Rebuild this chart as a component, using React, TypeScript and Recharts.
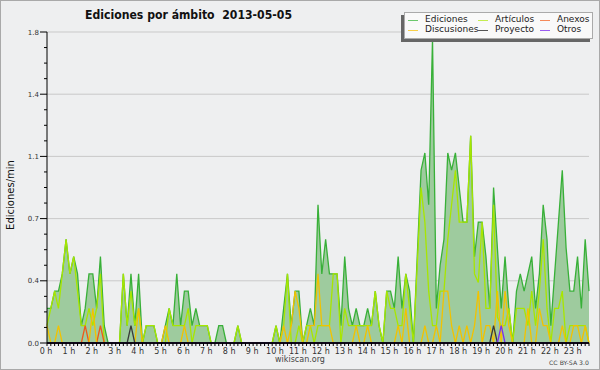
import React from 'react';
import { ComposedChart, Area, Line, XAxis, YAxis, CartesianGrid, ReferenceLine } from 'recharts';

// 10-minute steps from 00:00 to 23:40 (edits per minute)
const ediciones = [
  0.2, 0.2, 0.3, 0.3, 0.4, 0.6, 0.4, 0.5, 0.4, 0.1, 0.2, 0.4,
  0.4, 0.2, 0.5, 0.1, 0, 0, 0, 0, 0.4, 0.1, 0.4, 0.1,
  0.4, 0, 0.1, 0.1, 0.1, 0, 0, 0.1, 0.2, 0.1, 0.4, 0.1,
  0.3, 0.3, 0.1, 0.2, 0.1, 0.1, 0.1, 0, 0, 0.1, 0.1, 0,
  0, 0, 0.1, 0, 0, 0, 0, 0, 0, 0, 0, 0,
  0.1, 0, 0.2, 0.4, 0.1, 0.3, 0.3, 0, 0.1, 0.2, 0.1, 0.8,
  0.4, 0.6, 0.4, 0.4, 0.4, 0.1, 0.5, 0.2, 0.1, 0.2, 0.1, 0.1,
  0.2, 0.1, 0.3, 0.1, 0, 0.3, 0.3, 0.2, 0.5, 0.2, 0.4, 0.3,
  0, 0.5, 1.0, 1.1, 0.8, 1.76, 0.2, 0.45, 0.6, 1.1, 1.0, 1.1,
  0.9, 0.7, 0.7, 1.2, 0.5, 0.7, 0.7, 0.5, 0.2, 0.9, 0.55, 0.2,
  0.5, 0.2, 0, 0.3, 0.4, 0.3, 0.4, 0.5, 0.2, 0.4, 0.8, 0.6,
  0.1, 0.4, 0.7, 1.0, 0.55, 0.3, 0.3, 0.5, 0.2, 0.6, 0.3,
];

const articulos = [
  0.1, 0.2, 0.3, 0.2, 0.4, 0.6, 0.4, 0.5, 0.3, 0.1, 0.1, 0.2,
  0.1, 0.2, 0.4, 0, 0, 0, 0, 0, 0.4, 0.1, 0.3, 0.1,
  0.2, 0, 0.1, 0.1, 0.1, 0, 0, 0, 0.2, 0.1, 0.1, 0.1,
  0.1, 0.2, 0, 0.1, 0.1, 0.1, 0.1, 0, 0, 0, 0, 0,
  0, 0, 0.1, 0, 0, 0, 0, 0, 0, 0, 0, 0,
  0.1, 0, 0.1, 0.4, 0, 0, 0.1, 0, 0.1, 0.1, 0, 0.1,
  0.1, 0.1, 0.1, 0.4, 0.4, 0, 0.2, 0.1, 0.1, 0.1, 0.1, 0.1,
  0.1, 0.1, 0.3, 0.1, 0, 0.3, 0.2, 0.2, 0.1, 0.1, 0.4, 0.2,
  0, 0.45, 0.9, 0.7, 0.3, 0.1, 0.1, 0.3, 0.3, 0.6, 0.8, 1.0,
  0.7, 0.7, 0.7, 1.2, 0.4, 0.35, 0.7, 0.2, 0.2, 0.8, 0.15, 0.1,
  0.1, 0.2, 0, 0.2, 0.2, 0.2, 0.1, 0.3, 0.1, 0.3, 0.6, 0.2,
  0, 0.2, 0.2, 0.3, 0, 0.1, 0.1, 0.1, 0.1, 0.1, 0,
];

const discusiones = [
  0.1, 0, 0, 0.1, 0, 0, 0, 0, 0, 0, 0, 0,
  0.2, 0, 0, 0, 0, 0, 0, 0, 0, 0, 0, 0,
  0.2, 0, 0, 0, 0, 0, 0, 0.1, 0, 0, 0, 0,
  0.1, 0, 0, 0, 0, 0, 0, 0, 0, 0, 0, 0,
  0, 0, 0, 0, 0, 0, 0, 0, 0, 0, 0, 0,
  0, 0, 0.1, 0, 0.1, 0.3, 0.2, 0, 0, 0.1, 0.1, 0.4,
  0.1, 0.1, 0.1, 0, 0, 0, 0, 0, 0, 0.1, 0, 0,
  0.1, 0, 0, 0, 0, 0, 0, 0, 0.1, 0, 0.2, 0,
  0, 0, 0, 0.1, 0, 0, 0.1, 0, 0.3, 0.3, 0.1, 0,
  0.1, 0, 0.1, 0, 0.1, 0.3, 0, 0.1, 0.1, 0, 0.3, 0,
  0.3, 0.1, 0, 0, 0, 0, 0.2, 0, 0, 0.2, 0.1, 0.1,
  0, 0, 0, 0.1, 0, 0, 0.1, 0.1, 0, 0.1, 0,
];

const anexos = [
  0, 0, 0, 0, 0, 0, 0, 0, 0, 0, 0.1, 0,
  0, 0, 0.1, 0, 0, 0, 0, 0, 0, 0, 0, 0,
  0, 0, 0, 0, 0, 0, 0, 0, 0, 0, 0, 0,
  0, 0, 0, 0, 0, 0, 0, 0, 0, 0, 0, 0,
  0, 0, 0, 0, 0, 0, 0, 0, 0, 0, 0, 0,
  0, 0, 0, 0, 0, 0, 0, 0, 0, 0, 0, 0,
  0, 0, 0, 0, 0, 0, 0, 0, 0, 0, 0, 0,
  0, 0, 0, 0, 0, 0, 0, 0, 0, 0, 0, 0,
  0, 0, 0, 0, 0, 0, 0, 0, 0, 0, 0, 0,
  0, 0, 0, 0, 0, 0, 0, 0, 0, 0, 0, 0,
  0, 0, 0, 0, 0, 0, 0, 0, 0, 0, 0, 0,
  0, 0, 0, 0, 0, 0, 0, 0, 0, 0, 0,
];

const proyecto = [
  0, 0, 0, 0, 0, 0, 0, 0, 0, 0, 0, 0,
  0, 0, 0, 0, 0, 0, 0, 0, 0, 0, 0.1, 0,
  0, 0, 0, 0, 0, 0, 0, 0, 0, 0, 0, 0,
  0, 0, 0, 0, 0, 0, 0, 0, 0, 0, 0, 0,
  0, 0, 0, 0, 0, 0, 0, 0, 0, 0, 0, 0,
  0, 0, 0, 0, 0, 0, 0, 0, 0, 0, 0, 0,
  0, 0, 0, 0, 0, 0, 0, 0, 0, 0, 0, 0,
  0, 0, 0, 0, 0, 0, 0, 0, 0, 0, 0, 0,
  0, 0, 0, 0, 0, 0, 0, 0, 0, 0, 0, 0,
  0, 0, 0, 0, 0, 0, 0, 0, 0, 0.1, 0, 0,
  0, 0, 0, 0, 0, 0, 0, 0, 0, 0, 0, 0,
  0, 0, 0, 0, 0, 0, 0, 0, 0, 0, 0,
];

const otros = [
  0, 0, 0, 0, 0, 0, 0, 0, 0, 0, 0, 0,
  0, 0, 0, 0, 0, 0, 0, 0, 0, 0, 0, 0,
  0, 0, 0, 0, 0, 0, 0, 0, 0, 0, 0, 0,
  0, 0, 0, 0, 0, 0, 0, 0, 0, 0, 0, 0,
  0, 0, 0, 0, 0, 0, 0, 0, 0, 0, 0, 0,
  0, 0, 0, 0, 0, 0, 0, 0, 0, 0, 0, 0,
  0, 0, 0, 0, 0, 0, 0, 0, 0, 0, 0, 0,
  0, 0, 0, 0, 0, 0, 0, 0, 0, 0, 0, 0,
  0, 0, 0, 0, 0, 0, 0, 0, 0, 0, 0, 0,
  0, 0, 0, 0, 0, 0, 0, 0, 0, 0, 0, 0.1,
  0, 0, 0, 0, 0, 0, 0, 0, 0, 0, 0, 0,
  0, 0, 0, 0, 0, 0, 0, 0, 0, 0, 0,
];

const hourLabels = [
  '0 h', '1 h', '2 h', '3 h', '4 h', '5 h', '6 h', '7 h', '8 h', '9 h', '10 h', '11 h',
  '12 h', '13 h', '14 h', '15 h', '16 h', '17 h', '18 h', '19 h', '20 h', '21 h', '22 h', '23 h',
];

const yTicks = [
  0, 0.09, 0.18, 0.27, 0.36, 0.45, 0.54, 0.63, 0.72, 0.81, 0.9,
  0.99, 1.08, 1.17, 1.26, 1.35, 1.44, 1.53, 1.62, 1.71, 1.8,
];
const yGrid = [0.36, 0.72, 1.08, 1.44, 1.8];

const TITLE = 'Ediciones por ámbito  2013-05-05';
const Y_LABEL = 'Ediciones/min';

const COLORS = {
  ediciones: '#38b038',
  edicionesFill: '#9ecb9e',
  articulos: '#a8e600',
  anexos: '#ee5a1a',
  discusiones: '#f2c200',
  proyecto: '#3a3a3a',
  otros: '#7a30ee',
};

const legendRows = [
  [
    { name: 'Ediciones', color: '#6cc86c' },
    { name: 'Artículos', color: '#c4ec50' },
    { name: 'Anexos', color: '#f58a5a' },
  ],
  [
    { name: 'Discusiones', color: '#f8cf48' },
    { name: 'Proyecto', color: '#555555' },
    { name: 'Otros', color: '#9a5cf0' },
  ],
];

const data = ediciones.map((v, i) => ({
  i,
  ediciones: v,
  articulos: articulos[i],
  discusiones: discusiones[i],
  anexos: anexos[i],
  proyecto: proyecto[i],
  otros: otros[i],
}));
const xTicks = data.map((d) => d.i);

const FONT = '"DejaVu Sans", sans-serif';

const XTick = (props: any) => {
  const { x, y, payload } = props;
  const v = payload.value as number;
  const major = v % 6 === 0;
  return (
    <g>
      <line x1={x} x2={x} y1={y} y2={y + 3} stroke="#000" strokeWidth={1} />
      {major && (
        <text x={x - 1} y={y + 11} textAnchor="middle" fontSize={8} fill="#333" fontFamily={FONT}>
          {hourLabels[v / 6]}
        </text>
      )}
    </g>
  );
};

const YTick = (props: any) => {
  const { x, y, payload, index } = props;
  const major = index % 4 === 0;
  return (
    <g>
      <line x1={major ? x - 7 : x - 3} x2={x} y1={y} y2={y} stroke="#000" strokeWidth={1} />
      {major && (
        <text x={x - 8} y={y + 2.5} textAnchor="end" fontSize={7} fill="#333" fontFamily={FONT}>
          {(payload.value as number).toFixed(1)}
        </text>
      )}
    </g>
  );
};

export default function App() {
  return (
    <div
      style={{
        position: 'absolute',
        left: 0,
        top: 0,
        width: 600,
        height: 370,
        boxSizing: 'border-box',
        border: '1px solid #a9a9a9',
        background: '#eeeff0',
        overflow: 'hidden',
      }}
    >
      <div style={{ position: 'absolute', left: -1, top: -1 }}>
        <ComposedChart
          width={600}
          height={370}
          data={data}
          margin={{ top: 32, right: 11, bottom: 7, left: 7 }}
        >
          <CartesianGrid vertical={false} horizontalValues={yGrid} stroke="#c9c9c9" strokeWidth={1} />
          <XAxis
            dataKey="i"
            type="number"
            domain={[0, 142]}
            ticks={xTicks}
            interval={0}
            tickLine={false}
            tickSize={0}
            tickMargin={0}
            height={20}
            axisLine={{ stroke: '#000', strokeWidth: 1 }}
            tick={<XTick />}
          />
          <YAxis
            type="number"
            domain={[0, 1.8]}
            ticks={yTicks}
            interval={0}
            tickLine={false}
            tickSize={0}
            tickMargin={0}
            width={40}
            axisLine={{ stroke: '#000', strokeWidth: 1 }}
            tick={<YTick />}
          />
          <Area
            type="linear"
            dataKey="ediciones"
            stroke={COLORS.ediciones}
            strokeWidth={1.3}
            fill={COLORS.edicionesFill}
            fillOpacity={1}
            isAnimationActive={false}
            dot={false}
            activeDot={false}
          />
          <Line type="linear" dataKey="articulos" stroke={COLORS.articulos} strokeWidth={1.3} dot={false} activeDot={false} isAnimationActive={false} />
          <Line type="linear" dataKey="anexos" stroke={COLORS.anexos} strokeWidth={1.3} dot={false} activeDot={false} isAnimationActive={false} />
          <Line type="linear" dataKey="discusiones" stroke={COLORS.discusiones} strokeWidth={1.3} dot={false} activeDot={false} isAnimationActive={false} />
          <Line type="linear" dataKey="proyecto" stroke={COLORS.proyecto} strokeWidth={1.3} dot={false} activeDot={false} isAnimationActive={false} />
          <Line type="linear" dataKey="otros" stroke={COLORS.otros} strokeWidth={1.3} dot={false} activeDot={false} isAnimationActive={false} />
          <ReferenceLine y={0} stroke="#000" strokeWidth={1.6} ifOverflow="visible" />
        </ComposedChart>
      </div>

      <svg
        width={600}
        height={370}
        style={{ position: 'absolute', left: -1, top: -1, pointerEvents: 'none' }}
      >
        <text x={85} y={18.5} fontSize={12.5} fontWeight="bold" fill="#111" fontFamily={FONT} textLength={207} lengthAdjust="spacingAndGlyphs" style={{ whiteSpace: 'pre' }}>
          {TITLE}
        </text>
        <text transform="translate(14,195) rotate(-90)" textAnchor="middle" fontSize={10} fill="#111" fontFamily={FONT}>
          {Y_LABEL}
        </text>
        <text x={300} y={362} textAnchor="middle" fontSize={8} fill="#444" fontFamily={FONT}>
          wikiscan.org
        </text>
        <text x={549} y={364.5} fontSize={6} fill="#444" fontFamily={FONT} textLength={40} lengthAdjust="spacingAndGlyphs">
          CC BY-SA 3.0
        </text>
      </svg>

      <div
        style={{
          position: 'absolute',
          left: 403,
          top: 10.5,
          width: 189,
          height: 27.5,
          boxSizing: 'border-box',
          border: '1px solid #aaaaaa',
          background: '#f9f9f9',
          boxShadow: '-3px 3px 0 #666',
          fontFamily: FONT,
          fontSize: 9,
          color: '#222',
        }}
      >
        {legendRows.map((row, r) =>
          row.map((item, c) => {
            const colX = [3, 73, 135][c];
            const rowY = [7.8, 17.8][r];
            return (
              <React.Fragment key={item.name}>
                <div
                  style={{
                    position: 'absolute',
                    left: colX,
                    top: rowY - 0.5,
                    width: 10,
                    height: 1,
                    background: item.color,
                  }}
                />
                <div
                  style={{
                    position: 'absolute',
                    left: colX + 17,
                    top: rowY - 6,
                    lineHeight: '11px',
                    whiteSpace: 'nowrap',
                  }}
                >
                  {item.name}
                </div>
              </React.Fragment>
            );
          })
        )}
      </div>
    </div>
  );
}
